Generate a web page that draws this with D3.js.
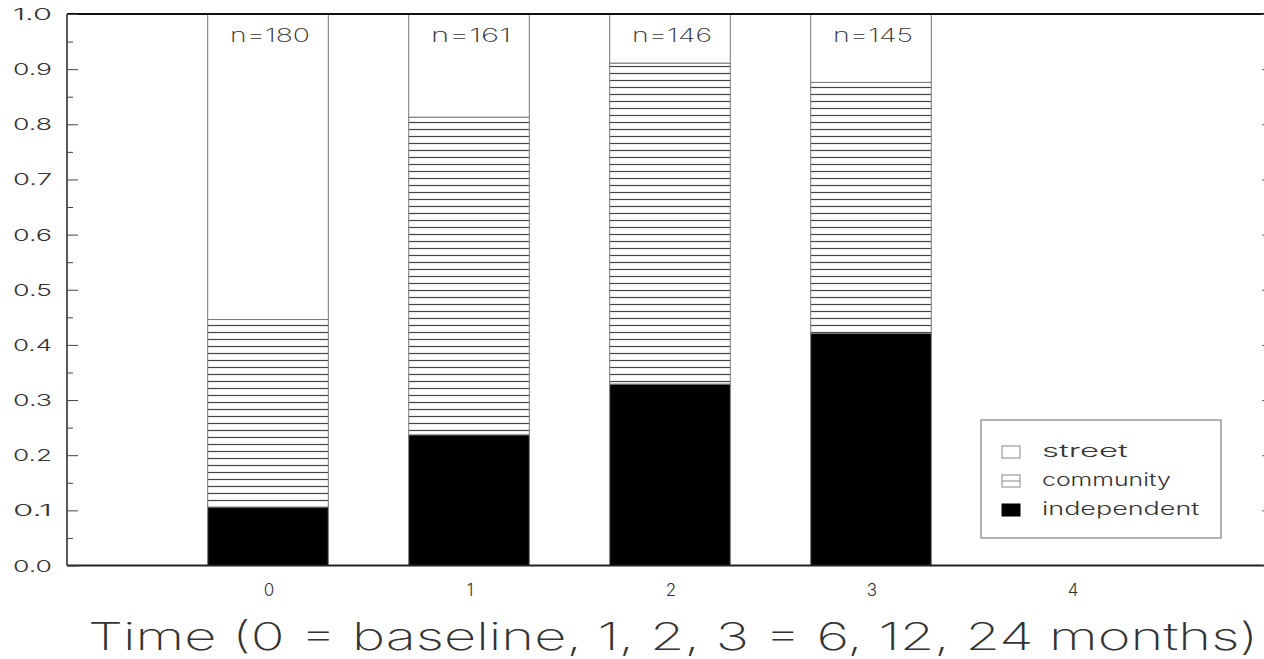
<!DOCTYPE html>
<html>
<head>
<meta charset="utf-8">
<script src="https://cdn.jsdelivr.net/npm/d3@7"></script>
<style>
  html, body { margin: 0; padding: 0; background: #fff; }
  svg text { font-family: "Inter", "DejaVu Sans", sans-serif; font-weight: 300; fill: #333; }
</style>
</head>
<body>
<div id="chart"></div>
<script>
// data
const timePoints = [0, 1, 2, 3];
const sampleSizes = [180, 161, 146, 145];
const independent = [0.106, 0.237, 0.329, 0.421];
const community = [0.340, 0.576, 0.582, 0.455];
const street = timePoints.map((d, i) => 1 - independent[i] - community[i]);
const xTicks = [0, 1, 2, 3, 4];
const yTicks = [0, 0.1, 0.2, 0.3, 0.4, 0.5, 0.6, 0.7, 0.8, 0.9, 1.0];
const legendItems = ["street", "community", "independent"];

const width = 1264, height = 659;
const margin = {top: 14, left: 67, bottom: 93};

const svg = d3.select("#chart").append("svg")
  .attr("width", width)
  .attr("height", height);

// hatch for community
const defs = svg.append("defs");
defs.append("pattern")
  .attr("id", "hatch")
  .attr("patternUnits", "userSpaceOnUse")
  .attr("width", 8).attr("height", 7)
  .call(p => p.append("rect").attr("width", 8).attr("height", 7).attr("fill", "#fff"))
  .append("line")
  .attr("x1", 0).attr("x2", 8)
  .attr("y1", 3.5).attr("y2", 3.5)
  .attr("stroke", "#444").attr("stroke-width", 1.2);

// scales: plot runs from -1 to 5 in x, right edge falls just past the window
const x = d3.scaleLinear().domain([-1, 5]).range([margin.left, 1273]);
const y = d3.scaleLinear().domain([0, 1]).range([height - margin.bottom - 0.5, margin.top]);

const rows = timePoints.map((t, i) => ({t, independent: independent[i], community: community[i], street: street[i]}));
const stack = d3.stack().keys(["independent", "community", "street"]);
const layers = stack(rows);
const fills = {independent: "#000", community: "url(#hatch)", street: "#fff"};

const barW = x(0.6) - x(0);

svg.append("g").selectAll("g")
  .data(layers)
  .join("g")
  .selectAll("rect")
  .data(d => d.map(v => Object.assign({}, v, {key: d.key})))
  .join("rect")
  .attr("x", d => x(d.data.t) - barW / 2)
  .attr("width", barW)
  .attr("y", d => y(d[1]))
  .attr("height", d => y(d[0]) - y(d[1]))
  .attr("fill", d => fills[d.key])
  .attr("stroke", "#777")
  .attr("stroke-width", 1);

// n labels
svg.append("g").selectAll("text")
  .data(timePoints)
  .join("text")
  .attr("x", d => x(d) + 2)
  .attr("y", 42)
  .attr("text-anchor", "middle")
  .attr("font-size", 19)
  .style("font-weight", 200)
  .attr("textLength", 80)
  .attr("lengthAdjust", "spacingAndGlyphs")
  .text((d, i) => "n=" + sampleSizes[i]);

// frame
const x0 = x(-1), x1 = x(5), yTop = y(1), yBot = y(0);
svg.append("line").attr("x1", x0).attr("x2", x1).attr("y1", yTop).attr("y2", yTop)
  .attr("stroke", "#111").attr("stroke-width", 2);
svg.append("line").attr("x1", x0).attr("x2", x1).attr("y1", yBot).attr("y2", yBot)
  .attr("stroke", "#222").attr("stroke-width", 2);
svg.append("line").attr("x1", x0).attr("x2", x0).attr("y1", yTop).attr("y2", yBot)
  .attr("stroke", "#222").attr("stroke-width", 1.5);

// y axis ticks (inward) on both sides
const minorTicks = d3.range(0.05, 1, 0.1);
svg.append("g").attr("transform", `translate(${x0},0)`)
  .call(d3.axisRight(y).tickValues(yTicks).tickSize(11).tickFormat(""))
  .call(g => g.select(".domain").remove())
  .call(g => g.selectAll("line").attr("stroke", "#444"));
svg.append("g").attr("transform", `translate(${x0},0)`)
  .call(d3.axisRight(y).tickValues(minorTicks).tickSize(6).tickFormat(""))
  .call(g => g.select(".domain").remove())
  .call(g => g.selectAll("line").attr("stroke", "#444"));
svg.append("g").attr("transform", `translate(${x1},0)`)
  .call(d3.axisLeft(y).tickValues(yTicks).tickSize(11).tickFormat(""))
  .call(g => g.select(".domain").remove())
  .call(g => g.selectAll("line").attr("stroke", "#666"));

// y tick labels
svg.append("g").selectAll("text")
  .data(yTicks)
  .join("text")
  .attr("x", 52)
  .attr("y", d => y(d) + 6)
  .attr("text-anchor", "end")
  .attr("font-size", 16)
  .attr("textLength", 39)
  .attr("lengthAdjust", "spacingAndGlyphs")
  .text(d => d3.format(".1f")(d));

// x tick labels
svg.append("g").selectAll("text")
  .data(xTicks)
  .join("text")
  .attr("x", d => x(d) + 1)
  .attr("y", 596)
  .attr("text-anchor", "middle")
  .attr("font-size", 17)
  .text(d => d);

// x title
svg.append("text")
  .attr("x", 88)
  .attr("y", 650)
  .attr("font-size", 38)
  .style("font-weight", 200)
  .attr("textLength", 1170)
  .attr("lengthAdjust", "spacingAndGlyphs")
  .text("Time (0 = baseline, 1, 2, 3 = 6, 12, 24 months)");

// legend
const legend = svg.append("g").attr("transform", "translate(981,420)");
legend.append("rect").attr("width", 240).attr("height", 118)
  .attr("fill", "#fff").attr("stroke", "#666").attr("stroke-width", 1);
const item = legend.selectAll("g")
  .data(legendItems)
  .join("g")
  .attr("transform", (d, i) => `translate(21,${26 + i * 29})`);
item.append("rect")
  .attr("width", 18).attr("height", 12)
  .attr("fill", d => d === "independent" ? "#000" : "#fff")
  .attr("stroke", d => d === "independent" ? "#000" : "#888");
item.filter(d => d === "community").append("line")
  .attr("x1", 0).attr("x2", 18).attr("y1", 6).attr("y2", 6)
  .attr("stroke", "#888");
item.append("text")
  .attr("x", 40)
  .attr("y", 11)
  .attr("font-size", 18)
  .attr("textLength", d => d.length * 14.3)
  .attr("lengthAdjust", "spacingAndGlyphs")
  .text(d => d);
</script>
</body>
</html>
